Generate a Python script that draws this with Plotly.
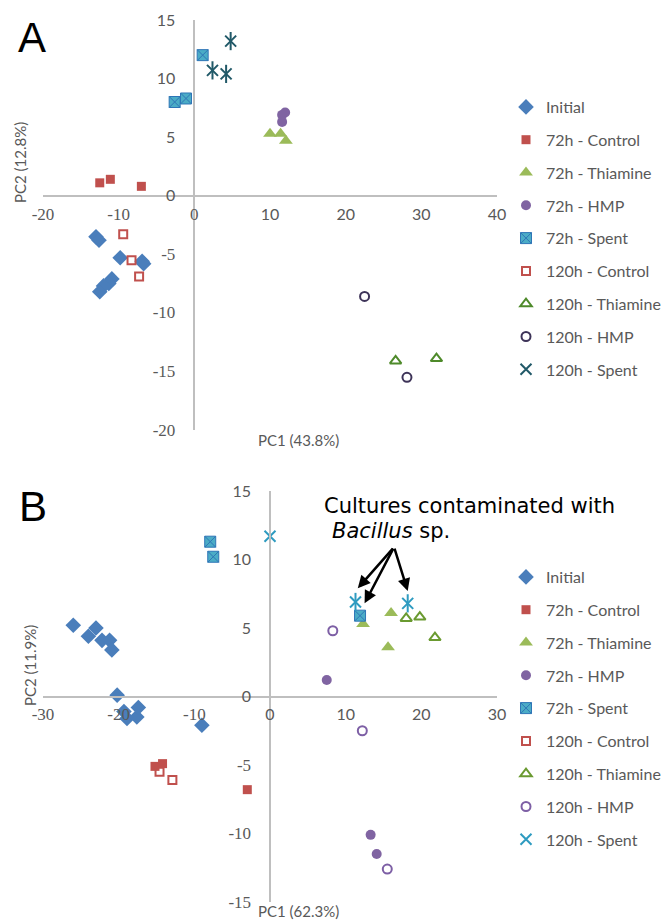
import plotly.graph_objects as go

# ---------------- data : panel A ----------------
names = ["Initial", "72h - Control", "72h - Thiamine", "72h - HMP", "72h - Spent",
         "120h - Control", "120h - Thiamine", "120h - HMP", "120h - Spent"]

A_init_x = [-13.0, -12.6, -9.8, -6.7, -6.9, -10.9, -11.3, -12.0, -12.5]
A_init_y = [-3.5, -3.8, -5.3, -5.8, -5.6, -7.1, -7.5, -7.7, -8.2]
A_c72_x = [-12.5, -11.1, -7.0]
A_c72_y = [1.1, 1.4, 0.8]
A_t72_x = [10.0, 11.4, 12.1]
A_t72_y = [5.3, 5.3, 4.7]
A_h72_x = [12.0, 11.6, 11.6]
A_h72_y = [7.1, 6.9, 6.3]
A_s72_x = [1.1, -2.6, -1.1]
A_s72_y = [12.0, 8.0, 8.3]
A_c120_x = [-9.4, -8.3, -7.3]
A_c120_y = [-3.3, -5.5, -6.9]
A_t120_x = [26.6, 32.0]
A_t120_y = [-14.1, -13.9]
A_h120_x = [22.5, 28.1]
A_h120_y = [-8.6, -15.5]
A_s120_x = [4.8, 2.4, 4.2]
A_s120_y = [13.2, 10.7, 10.4]

# ---------------- data : panel B ----------------
B_init_x = [-26.0, -24.0, -23.0, -22.2, -21.2, -20.9, -20.2, -19.3, -18.9, -17.6, -17.4, -9.0]
B_init_y = [5.2, 4.4, 5.0, 4.1, 4.1, 3.4, 0.1, -1.1, -1.6, -1.5, -0.8, -2.1]
B_c72_x = [-15.2, -14.2, -3.0]
B_c72_y = [-5.1, -4.9, -6.8]
B_t72_x = [12.3, 16.0, 15.6]
B_t72_y = [5.3, 6.1, 3.6]
B_h72_x = [7.5, 13.3, 14.1]
B_h72_y = [1.2, -10.1, -11.5]
B_s72_x = [-7.9, -7.5, 11.9]
B_s72_y = [11.3, 10.2, 5.9]
B_c120_x = [-14.6, -12.9]
B_c120_y = [-5.5, -6.1]
B_t120_x = [18.0, 19.8, 21.8]
B_t120_y = [5.7, 5.8, 4.3]
B_h120_x = [8.3, 12.2, 15.5]
B_h120_y = [4.8, -2.5, -12.6]
B_s120_x = [0.0, 11.3, 18.2]
B_s120_y = [11.7, 6.9, 6.8]

# arrows (panel B): tail and heads in data units
arrow_tail = (16.4, 10.9)
arrow_heads_x = [11.6, 12.5, 18.2]
arrow_heads_y = [7.9, 6.8, 7.7]

A_xticks = [-20, -10, 0, 10, 20, 30, 40]
A_yticks = [-20, -15, -10, -5, 0, 5, 10, 15]
B_xticks = [-30, -20, -10, 0, 10, 20, 30]
B_yticks = [-15, -10, -5, 0, 5, 10, 15]

# ---------------- styling ----------------
W, H = 667, 920
SANS = "Lato"
GREY = "#595959"
SERIF_SPAN = "<span style=\"font-family:'Liberation Serif',serif;font-size:17px\">{}</span>"

def ticktext(vals, serif_set):
    out = []
    for v in vals:
        s = str(v)
        out.append(SERIF_SPAN.format(s) if v in serif_set else s)
    return out

fig = go.Figure()

def add_series(xs, ys, name, sym, color, size, xa, ya, leg, lw=0, lcolor=None):
    marker = dict(symbol=sym, size=size, color=color, line=dict(width=lw, color=lcolor or color))
    fig.add_trace(go.Scatter(x=xs, y=ys, mode="markers", name=name, marker=marker,
                             xaxis=xa, yaxis=ya, legend=leg, legendgroup=leg + name,
                             showlegend=True))

def add_panel(d, xa, ya, leg, cols):
    (ix, iy, c72x, c72y, t72x, t72y, h72x, h72y, s72x, s72y,
     c120x, c120y, t120x, t120y, h120x, h120y, s120x, s120y) = d
    add_series(ix, iy, names[0], "diamond", "#4A7EBB", 12, xa, ya, leg)
    add_series(c72x, c72y, names[1], "square", "#C0504D", 9, xa, ya, leg)
    add_series(t72x, t72y, names[2], "triangle-up", "#9BBB59", 12, xa, ya, leg)
    add_series(h72x, h72y, names[3], "circle", "#8064A2", 10, xa, ya, leg)
    add_series(s72x, s72y, names[4], "square-x", "#4BACC6", 11, xa, ya, leg, lw=1, lcolor="#2E75B6")
    add_series(c120x, c120y, names[5], "square-open", "#C0504D", 8, xa, ya, leg, lw=2)
    add_series(t120x, t120y, names[6], "triangle-up-open", cols[0], 10, xa, ya, leg, lw=2)
    add_series(h120x, h120y, names[7], "circle-open", cols[1], 9, xa, ya, leg, lw=2)
    add_series(s120x, s120y, names[8], "x-thin-open", cols[2], 11, xa, ya, leg, lw=2)
    fig.add_trace(go.Scatter(x=s120x, y=s120y, mode="markers", showlegend=False, hoverinfo="skip",
                             marker=dict(symbol="line-ns-open", size=13, color=cols[2],
                                         line=dict(width=2, color=cols[2])),
                             xaxis=xa, yaxis=ya))

add_panel((A_init_x, A_init_y, A_c72_x, A_c72_y, A_t72_x, A_t72_y, A_h72_x, A_h72_y,
           A_s72_x, A_s72_y, A_c120_x, A_c120_y, A_t120_x, A_t120_y, A_h120_x, A_h120_y,
           A_s120_x, A_s120_y), "x", "y", "legend", ("#4E8A2A", "#3D3358", "#215968"))
add_panel((B_init_x, B_init_y, B_c72_x, B_c72_y, B_t72_x, B_t72_y, B_h72_x, B_h72_y,
           B_s72_x, B_s72_y, B_c120_x, B_c120_y, B_t120_x, B_t120_y, B_h120_x, B_h120_y,
           B_s120_x, B_s120_y), "x2", "y2", "legend2", ("#6A9A30", "#7D5FA5", "#2E9BC0"))

# domains in paper fractions
A_xdom = [43 / W, 497 / W]
A_ydom = [1 - 430 / H, 1 - 20 / H]
B_xdom = [43 / W, 497 / W]
B_ydom = [1 - 902 / H, 1 - 491 / H]
A_xr, A_yr = [-20, 40], [-20, 15]
B_xr, B_yr = [-30, 30], [-15, 15]

def zero_pos(dom, rng):
    return dom[0] + (0 - rng[0]) / (rng[1] - rng[0]) * (dom[1] - dom[0])

axis_common = dict(showgrid=False, zeroline=False, showline=True, linecolor="#BFBFBF",
                   linewidth=1.5, ticks="", tickfont=dict(family=SANS, size=16, color=GREY),
                   anchor="free", fixedrange=True, automargin=False)

legend_common = dict(xanchor="left", yanchor="top", traceorder="grouped",
                     tracegroupgap=9, font=dict(family=SANS, size=16, color=GREY),
                     bgcolor="rgba(0,0,0,0)", itemclick=False)

fig.update_layout(
    width=W, height=H, margin=dict(l=0, r=0, t=0, b=0, autoexpand=False),
    paper_bgcolor="white", plot_bgcolor="rgba(0,0,0,0)",
    xaxis=dict(axis_common, domain=A_xdom, range=A_xr, position=zero_pos(A_ydom, A_yr),
               tickvals=A_xticks, ticktext=ticktext(A_xticks, {-20, -10, 0}), ticklabelstandoff=4),
    yaxis=dict(axis_common, domain=A_ydom, range=A_yr, position=zero_pos(A_xdom, A_xr),
               tickvals=A_yticks, ticktext=ticktext(A_yticks, {-5, -10, -15, -20}), ticklabelstandoff=15),
    xaxis2=dict(axis_common, domain=B_xdom, range=B_xr, position=zero_pos(B_ydom, B_yr),
                tickvals=B_xticks, ticktext=ticktext(B_xticks, {-30, -20, -10}), ticklabelstandoff=4),
    yaxis2=dict(axis_common, domain=B_ydom, range=B_yr, position=zero_pos(B_xdom, B_xr),
                tickvals=B_yticks, ticktext=ticktext(B_yticks, {-5, -10, -15}), ticklabelstandoff=15),
    legend=dict(legend_common, x=506 / W, y=1 - 90 / H),
    legend2=dict(legend_common, x=506 / W, y=1 - 560 / H),
    showlegend=True,
)

ann = []
letter_font = dict(family="Liberation Sans", size=42, color="black")
ann.append(dict(text="A", x=32 / W, y=1 - 38 / H, xref="paper", yref="paper", showarrow=False,
                xanchor="center", yanchor="middle", font=letter_font))
ann.append(dict(text="B", x=33 / W, y=1 - 506 / H, xref="paper", yref="paper", showarrow=False,
                xanchor="center", yanchor="middle", font=letter_font))
title_font = dict(family=SANS, size=15, color=GREY)
ann.append(dict(text="PC1 (43.8%)", x=298 / W, y=1 - 440 / H, xref="paper", yref="paper",
                xanchor="center", yanchor="middle", showarrow=False, font=title_font))
ann.append(dict(text="PC1 (62.3%)", x=298 / W, y=1 - 911 / H, xref="paper", yref="paper",
                xanchor="center", yanchor="middle", showarrow=False, font=title_font))
ann.append(dict(text="PC2 (12.8%)", x=20 / W, y=1 - 163 / H, xref="paper", yref="paper",
                xanchor="center", yanchor="middle", showarrow=False, textangle=-90, font=title_font))
ann.append(dict(text="PC2 (11.9%)", x=30 / W, y=1 - 666 / H, xref="paper", yref="paper",
                xanchor="center", yanchor="middle", showarrow=False, textangle=-90, font=title_font))
note_font = dict(family="DejaVu Sans", size=21, color="black")
ann.append(dict(text="Cultures contaminated with", x=322 / W, y=1 - 506 / H, xref="paper", yref="paper",
                xanchor="left", yanchor="middle", showarrow=False, font=note_font))
ann.append(dict(text="<i>Bacillus</i> sp.", x=330 / W, y=1 - 531 / H, xref="paper", yref="paper",
                xanchor="left", yanchor="middle", showarrow=False, font=note_font))
for hx, hy in zip(arrow_heads_x, arrow_heads_y):
    ann.append(dict(x=hx, y=hy, ax=arrow_tail[0], ay=arrow_tail[1], xref="x2", yref="y2",
                    axref="x2", ayref="y2", text="", showarrow=True, arrowhead=2,
                    arrowsize=1, arrowwidth=2.5, arrowcolor="black"))
fig.update_layout(annotations=ann)

fig.write_html("out.html")
